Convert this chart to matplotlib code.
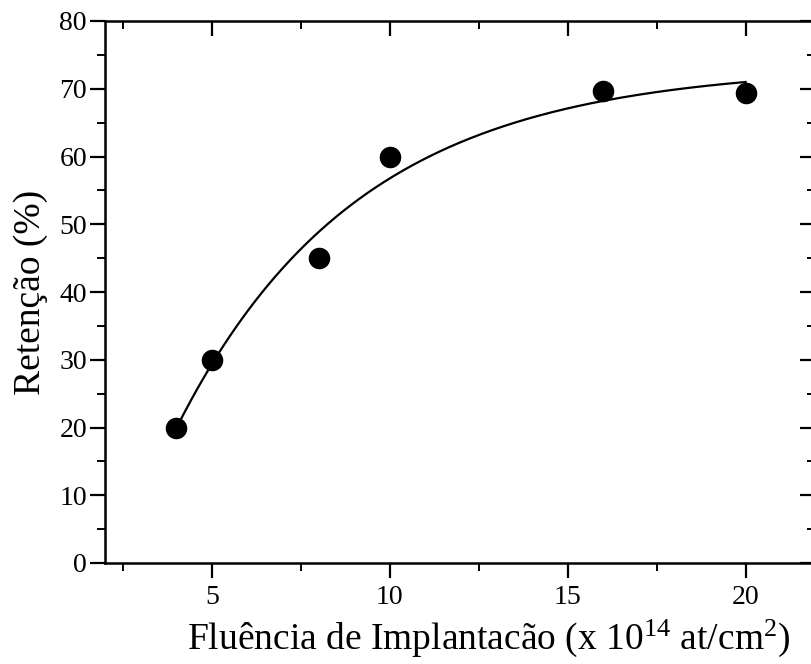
import numpy as np
import matplotlib
matplotlib.use("Agg")
import matplotlib.pyplot as plt
from matplotlib.ticker import MultipleLocator

# Measured retention vs implantation fluence
fluence = [4, 5, 8, 10, 16, 20]          # x 10^14 at/cm^2
retention = [20, 30, 45, 60, 69.6, 69.4]  # %

x_ticks = [5, 10, 15, 20]
y_ticks = [0, 10, 20, 30, 40, 50, 60, 70, 80]

plt.rcParams["font.family"] = ["Liberation Serif", "DejaVu Serif"]
plt.rcParams["mathtext.fontset"] = "custom"
plt.rcParams["mathtext.rm"] = "Liberation Serif"
plt.rcParams["mathtext.it"] = "Liberation Serif:italic"


def saturation_fit(x, y):
    """Least-squares fit of y = A - B*exp(-x/tau) (grid search on tau)."""
    x = np.asarray(x, float)
    y = np.asarray(y, float)
    best = None
    for tau in np.linspace(0.5, 30, 3000):
        M = np.column_stack([np.ones_like(x), -np.exp(-x / tau)])
        coef, *_ = np.linalg.lstsq(M, y, rcond=None)
        err = np.sum((M @ coef - y) ** 2)
        if best is None or err < best[0]:
            best = (err, coef[0], coef[1], tau)
    _, A, B, tau = best
    return lambda t: A - B * np.exp(-np.asarray(t) / tau)


fig = plt.figure(figsize=(8.11, 6.64), dpi=100)
fig.patch.set_facecolor("white")
ax = fig.add_axes([105 / 811, 1 - 563 / 664, 710 / 811, (563 - 21) / 664])
ax.set_facecolor("white")

model = saturation_fit(fluence, retention)
xx = np.linspace(min(fluence), max(fluence), 300)
ax.plot(xx, model(xx), color="black", lw=1.6, zorder=2)
ax.plot(fluence, retention, "o", color="black", ms=14.5, zorder=3)

ax.set_xlim(2, 21.95)
ax.set_ylim(0, 80)
ax.set_xticks(x_ticks)
ax.set_yticks(y_ticks)
ax.xaxis.set_minor_locator(MultipleLocator(2.5))
ax.yaxis.set_minor_locator(MultipleLocator(5))

for s in ax.spines.values():
    s.set_linewidth(1.8)

ax.tick_params(axis="both", which="major", length=11, width=1.6,
               labelsize=20, colors="black")
ax.tick_params(axis="both", which="minor", length=6, width=1.4)
ax.tick_params(axis="x", which="both", bottom=True, top=True, direction="out", pad=5)
ax.tick_params(axis="y", which="both", left=True, right=True, direction="out", pad=2)

# top and right ticks point inward
for t in ax.xaxis.get_major_ticks() + ax.xaxis.get_minor_ticks():
    t.tick2line.set_marker(matplotlib.markers.TICKDOWN)
for t in ax.yaxis.get_major_ticks() + ax.yaxis.get_minor_ticks():
    t.tick2line.set_marker(matplotlib.markers.TICKLEFT)

ax.set_xlabel(r"Fluência de Implantacão (x 10$^{14}$ at/cm$^{2}$)", fontsize=27)
ax.set_ylabel("Retenção (%)", fontsize=27)
ax.xaxis.set_label_coords(0.54, -0.1)
ax.yaxis.set_label_coords(-0.08, 0.5)

fig.savefig("out.png", dpi=100)
